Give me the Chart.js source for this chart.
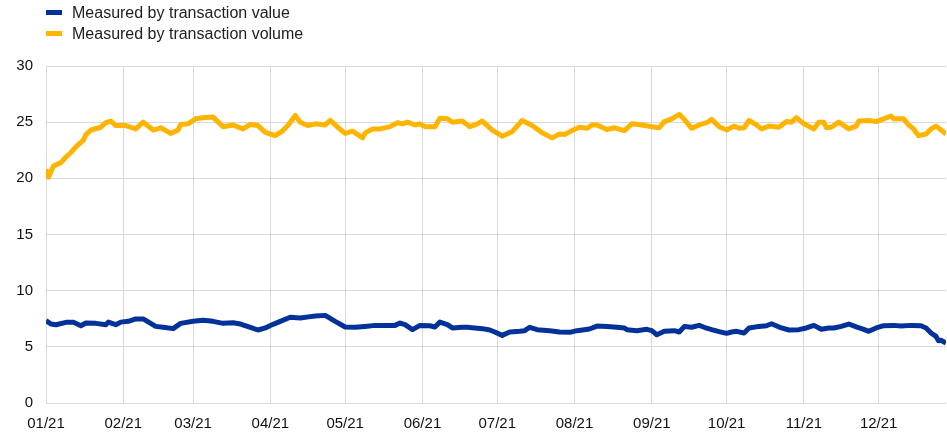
<!DOCTYPE html>
<html>
<head>
<meta charset="utf-8">
<script src="https://cdn.jsdelivr.net/npm/chart.js@4"></script>
<style>
body{margin:0;background:#fff;font-family:"Liberation Sans",Arial,sans-serif;}
#wrap{position:relative;width:947px;height:434px;}
#legend{position:absolute;left:46px;top:2px;font-size:16px;color:#222;}
.item{height:21px;line-height:20px;display:flex;align-items:center;}
.box{width:16px;height:5px;margin-right:10px;}
</style>
</head>
<body>
<div id="wrap">
<canvas id="chart" width="947" height="434"></canvas>
<div id="legend"></div>
</div>
<script>
// month tick positions (day of year) and their labels
let monthDays=[0,31,59,90,120,151,181,212,243,273,304,334];
let monthLabels=["01/21","02/21","03/21","04/21","05/21","06/21","07/21","08/21","09/21","10/21","11/21","12/21"];

// measured by transaction value
let valueDays=[0,2,4,8,11,14,16,20,24,25,28,30,33,36,39,44,47,51,54,59,63,67,71,75,78,82,85,88,90,93,98,102,106,108,112,116,120,124,128,132,136,140,142,144,147,150,154,156,158,161,163,167,169,172,175,178,180,183,186,190,192,194,197,202,206,210,213,218,221,225,229,232,233,237,241,243,245,248,252,254,256,259,262,264,267,270,273,275,277,280,282,286,289,291,295,298,302,305,308,311,314,316,319,322,325,328,330,333,336,340,343,347,351,353,355,357,358,359,361];
let valueSeries=[7.33,7.03,6.97,7.18,7.18,6.88,7.12,7.09,6.97,7.2,6.97,7.2,7.27,7.48,7.48,6.82,6.74,6.62,7.09,7.27,7.36,7.27,7.09,7.15,7.03,6.74,6.5,6.68,6.9,7.18,7.63,7.57,7.69,7.74,7.8,7.27,6.77,6.74,6.82,6.91,6.91,6.91,7.12,6.97,6.53,6.91,6.88,6.77,7.2,6.97,6.68,6.74,6.74,6.68,6.62,6.5,6.32,6.02,6.32,6.38,6.44,6.74,6.53,6.44,6.32,6.29,6.44,6.59,6.85,6.8,6.74,6.68,6.53,6.44,6.56,6.44,6.08,6.38,6.44,6.32,6.8,6.74,6.91,6.74,6.53,6.35,6.2,6.32,6.38,6.23,6.68,6.82,6.88,7.06,6.68,6.5,6.53,6.68,6.91,6.56,6.68,6.68,6.82,7.03,6.77,6.56,6.38,6.68,6.88,6.91,6.85,6.91,6.88,6.68,6.23,5.93,5.55,5.58,5.34];

// measured by transaction volume
let volumeDays=[0,1,3,6,8,10,12,15,16,18,22,24,26,28,32,36,39,43,46,50,53,54,57,60,63,67,71,75,79,82,85,88,92,95,97,100,102,105,108,112,114,117,120,123,127,128,131,134,138,141,143,145,148,150,152,156,158,161,163,167,170,173,175,179,183,187,191,195,199,203,206,208,211,214,217,219,221,225,228,232,235,239,243,246,248,251,254,256,259,262,265,267,270,273,276,278,280,282,285,287,290,294,297,299,301,304,308,310,312,313,315,318,322,325,326,330,333,336,339,340,344,346,348,350,353,355,357,359,361];
let volumeSeries=[20.8,20.1,21.1,21.4,21.9,22.3,22.8,23.4,23.9,24.3,24.55,24.95,25.1,24.7,24.7,24.4,25.0,24.3,24.5,24.0,24.3,24.8,24.85,25.3,25.4,25.45,24.6,24.75,24.4,24.8,24.7,24.1,23.8,24.25,24.7,25.6,25.0,24.7,24.85,24.75,25.15,24.55,24.0,24.2,23.6,24.05,24.4,24.4,24.6,24.95,24.85,25.0,24.75,24.85,24.6,24.6,25.35,25.3,25.0,25.1,24.6,24.85,25.1,24.3,23.75,24.15,25.15,24.7,24.05,23.6,23.95,23.9,24.25,24.55,24.45,24.75,24.75,24.35,24.5,24.25,24.85,24.75,24.6,24.5,25.05,25.3,25.7,25.25,24.45,24.75,24.95,25.25,24.6,24.3,24.65,24.45,24.5,25.15,24.75,24.4,24.65,24.55,25.05,25.0,25.4,24.85,24.4,25.0,25.0,24.5,24.55,25.0,24.4,24.65,25.1,25.15,25.05,25.3,25.55,25.3,25.3,24.75,24.4,23.8,23.95,24.4,24.65,24.3,23.95];

let seriesNames=["Measured by transaction value","Measured by transaction volume"];
let seriesColors=["#003299","#ffb400"];

function toPoints(days,vals){
  return days.map((d,i)=>({x:d,y:vals[i]}));
}

let legend=document.getElementById("legend");
seriesNames.forEach((n,i)=>{
  legend.innerHTML+='<div class="item"><span class="box" style="background:'+seriesColors[i]+'"></span>'+n+'</div>';
});

let tickFont={family:"'Liberation Sans', Arial",size:15};

let myChart=new Chart(document.getElementById("chart"),{
  type:"line",
  data:{
    datasets:[
      {label:seriesNames[0],data:toPoints(valueDays,valueSeries),borderColor:seriesColors[0],borderWidth:5,pointRadius:0,tension:0,fill:false,borderJoinStyle:"round"},
      {label:seriesNames[1],data:toPoints(volumeDays,volumeSeries),borderColor:seriesColors[1],borderWidth:5,pointRadius:0,tension:0,fill:false,borderJoinStyle:"round"}
    ]
  },
  options:{
    responsive:false,
    animation:false,
    layout:{padding:{top:66,right:1,left:0,bottom:0}},
    plugins:{legend:{display:false},tooltip:{enabled:false}},
    scales:{
      x:{
        type:"linear",
        min:0,
        max:361,
        afterBuildTicks:function(scale){
          scale.ticks=monthDays.map(v=>({value:v}));
        },
        afterFit:function(scale){scale.height=31;},
        ticks:{
          autoSkip:false,
          maxRotation:0,
          padding:12,
          color:"#111",
          font:tickFont,
          callback:function(v){
            let i=monthDays.indexOf(v);
            return i>=0?monthLabels[i]:"";
          }
        },
        grid:{color:"#d9d9d9",lineWidth:1,drawTicks:false},
        border:{display:false}
      },
      y:{
        min:0,
        max:30,
        afterFit:function(scale){scale.width=46;},
        ticks:{
          stepSize:5,
          padding:13,
          color:"#111",
          font:tickFont
        },
        grid:{color:"#d9d9d9",lineWidth:1,drawTicks:false},
        border:{display:false}
      }
    }
  }
});
</script>
</body>
</html>
